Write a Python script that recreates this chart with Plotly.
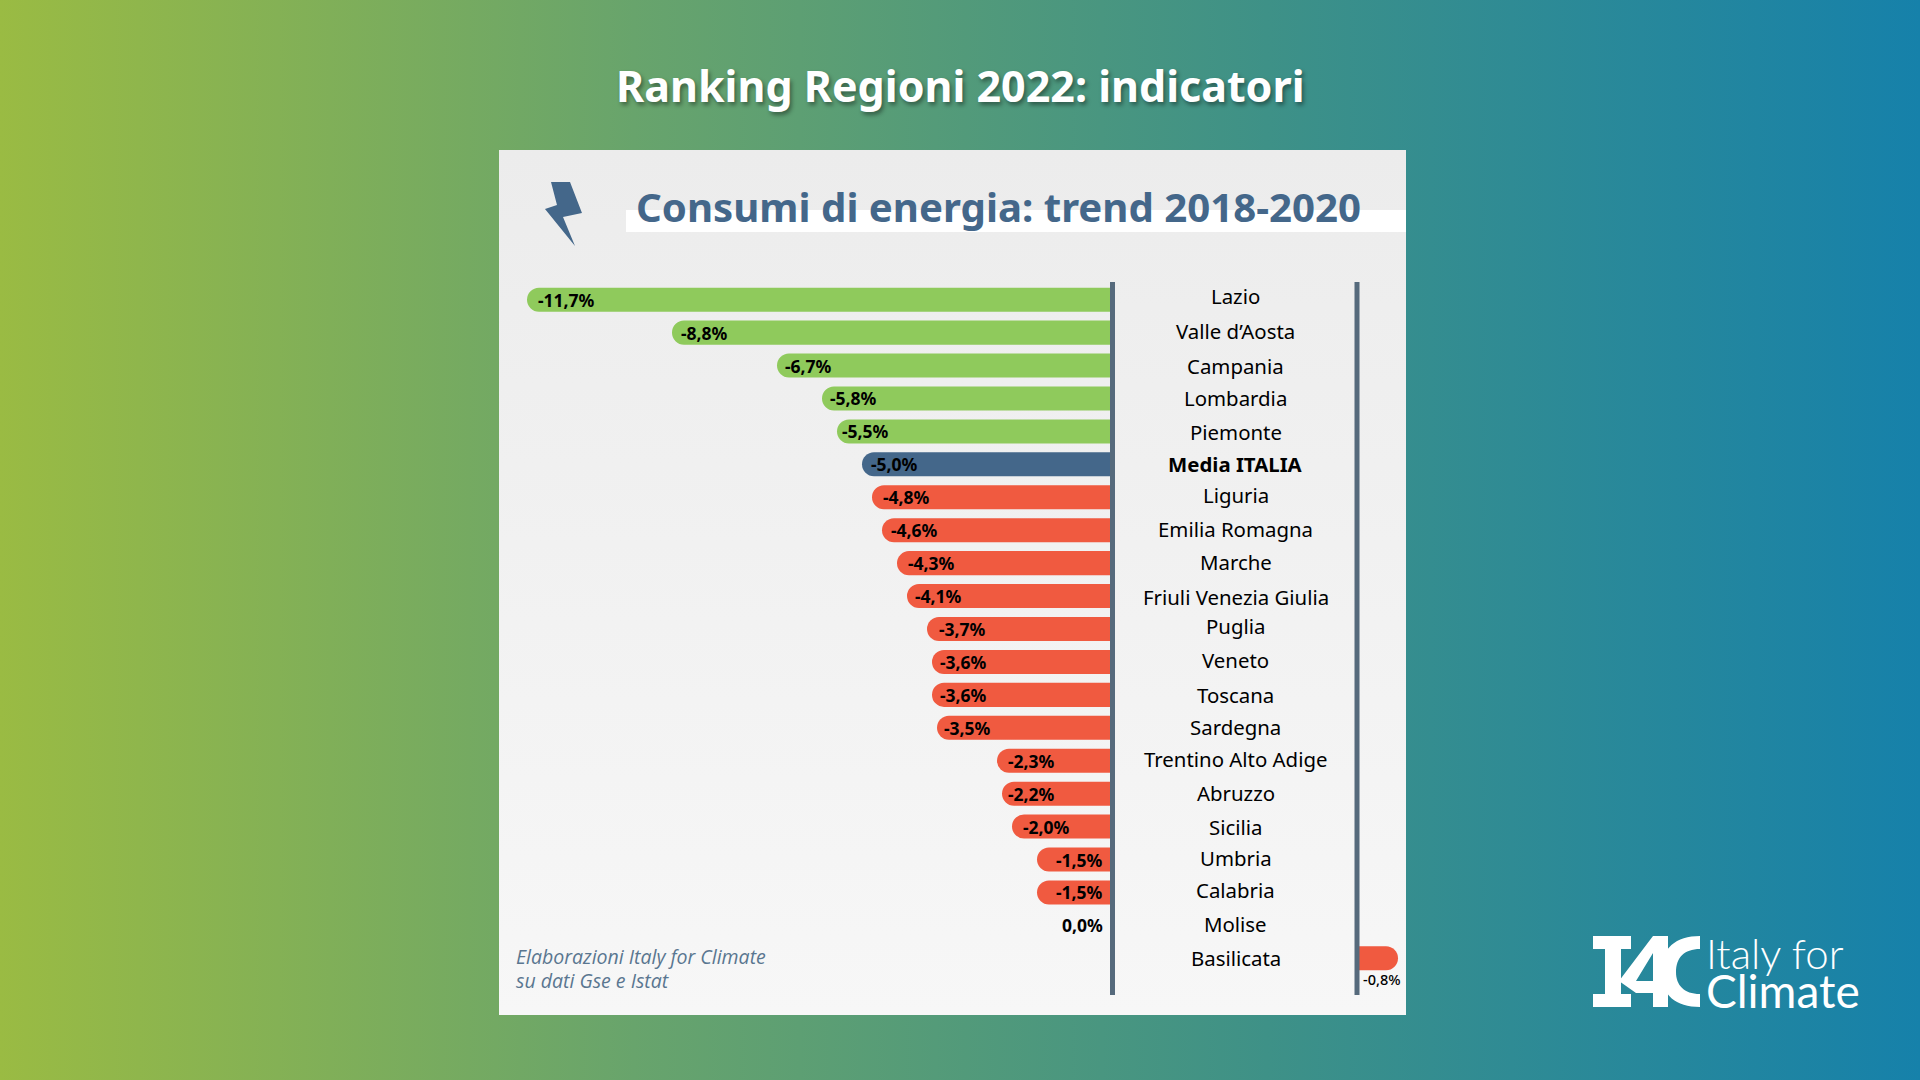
import base64
import plotly.graph_objects as go

REGIONS = ["Lazio", "Valle d’Aosta", "Campania", "Lombardia", "Piemonte", "Media ITALIA", "Liguria",
           "Emilia Romagna", "Marche", "Friuli Venezia Giulia", "Puglia", "Veneto", "Toscana", "Sardegna",
           "Trentino Alto Adige", "Abruzzo", "Sicilia", "Umbria", "Calabria", "Molise", "Basilicata"]
VALUES = [-11.7, -8.8, -6.7, -5.8, -5.5, -5.0, -4.8, -4.6, -4.3, -4.1, -3.7, -3.6, -3.6, -3.5,
          -2.3, -2.2, -2.0, -1.5, -1.5, 0.0, -0.8]
VALUE_LABELS = ["-11,7%", "-8,8%", "-6,7%", "-5,8%", "-5,5%", "-5,0%", "-4,8%", "-4,6%", "-4,3%", "-4,1%",
                "-3,7%", "-3,6%", "-3,6%", "-3,5%", "-2,3%", "-2,2%", "-2,0%", "-1,5%", "-1,5%", "0,0%", "-0,8%"]
GROUPS = ["good"] * 5 + ["avg"] + ["bad"] * 15
LABEL_PADS = [9, 7, 6, 6, 3, 7, 9, 7, 9, 6, 10, 6, 6, 5, 9, 4, 9]
NAME_SHIFTS = [4, 2, 0, 0, -1, 0, 2, 1, 1, -1, 3, 2, 0, 1, 2, 1, 0, 2, 2, 1, 0]

W, H = 1920, 1080
GROUP_COLORS = {"good": "#8fca5c", "avg": "#44678a", "bad": "#f05a40"}
INK = "#000000"
BLUE = "#44678a"
FONT = "Noto Sans"


def svg_gradient(x2, y2, stops):
    st = "".join(f'<stop offset="{o}" stop-color="{c}"/>' for o, c in stops)
    svg = (f'<svg xmlns="http://www.w3.org/2000/svg" width="100" height="100" preserveAspectRatio="none">'
           f'<defs><linearGradient id="g" x1="0" y1="0" x2="{x2}" y2="{y2}">{st}</linearGradient></defs>'
           f'<rect width="100" height="100" fill="url(#g)"/></svg>')
    return "data:image/svg+xml;base64," + base64.b64encode(svg.encode()).decode()


def px_img(src, x0, y0, x1, y1):
    return dict(source=src, xref="paper", yref="paper", x=x0 / W, y=1 - y0 / H,
                sizex=(x1 - x0) / W, sizey=(y1 - y0) / H, sizing="stretch",
                xanchor="left", yanchor="top", layer="below")


def px_path(cmds, fill):
    out = []
    for c in cmds:
        if isinstance(c, str):
            out.append(c)
        else:
            out.append(f"{c[0] / W:.5f},{1 - c[1] / H:.5f}")
    return dict(type="path", xref="paper", yref="paper", path=" ".join(out),
                fillcolor=fill, line=dict(width=0), layer="above")


def px_rect(x0, y0, x1, y1, fill, layer="below"):
    return dict(type="rect", xref="paper", yref="paper", x0=x0 / W, x1=x1 / W, y0=1 - y0 / H, y1=1 - y1 / H,
                fillcolor=fill, line=dict(width=0), layer=layer)


def px_text(text, x, y, size, color, anchor="left", family=FONT, weight=None, style=None, shadow=None):
    f = dict(family=family, size=size, color=color)
    if weight:
        f["weight"] = weight
    if style:
        f["style"] = style
    if shadow:
        f["shadow"] = shadow
    return dict(text=text, xref="paper", yref="paper", x=x / W, y=1 - y / H, xanchor=anchor, yanchor="middle",
                showarrow=False, font=f, align="left")


PLOT_TOP, PLOT_BOTTOM = 282, 995
ROW0_Y, ROW_STEP = 299.7, 32.93
X0_MAIN, X0_SIDE, PANEL_L, PANEL_R = 1112, 1358, 499, 1406
PX_PER_UNIT = 50
y_range = [(PLOT_BOTTOM - ROW0_Y) / ROW_STEP, (PLOT_TOP - ROW0_Y) / ROW_STEP]

fig = go.Figure()
fig.add_bar(x=VALUES[:-1], y=REGIONS[:-1], orientation="h", width=0.73,
            marker=dict(color=[GROUP_COLORS[g] for g in GROUPS[:-1]], cornerradius=12, line=dict(width=0)),
            hoverinfo="skip", xaxis="x", yaxis="y")
fig.add_bar(x=VALUES[-1:], y=REGIONS[-1:], orientation="h", width=0.73,
            marker=dict(color=GROUP_COLORS[GROUPS[-1]], cornerradius=12, line=dict(width=0)),
            hoverinfo="skip", xaxis="x2", yaxis="y")

annotations = []
# value labels
for i, (reg, val, lab) in enumerate(zip(REGIONS[:-1], VALUES[:-1], VALUE_LABELS[:-1])):
    label_font = dict(family=FONT, size=17.5, color=INK, weight=700)
    if i < len(LABEL_PADS):
        annotations.append(dict(text=lab, xref="x", yref="y", x=val, y=reg, xanchor="left", yanchor="middle",
                                xshift=LABEL_PADS[i], showarrow=False, font=label_font))
    else:
        annotations.append(dict(text=lab, xref="x", yref="y", x=0, y=reg, xanchor="right", yanchor="middle",
                                xshift=-7, showarrow=False, font=label_font))
annotations.append(dict(text=VALUE_LABELS[-1], xref="x2", yref="y", x=VALUES[-1] * 0.6, y=REGIONS[-1],
                        xanchor="center", yanchor="middle", yshift=-21, showarrow=False,
                        font=dict(family=FONT, size=14.5, color=INK, weight=500)))
# region names
for i, reg in enumerate(REGIONS):
    annotations.append(dict(text=reg, xref="paper", yref="y", x=1235.5 / W, y=reg, xanchor="center",
                            yanchor="middle", yshift=NAME_SHIFTS[i], showarrow=False,
                            font=dict(family=FONT, size=20.4, color=INK, weight=700 if reg == "Media ITALIA" else 400)))

annotations += [
    px_text("Ranking Regioni 2022: indicatori", 960, 85, 43, "#ffffff", "center", weight=700,
            shadow="2px 3px 4px rgba(0,0,0,0.4)"),
    px_text("Consumi di energia: trend 2018-2020", 634, 207, 40.2, BLUE, weight=700),
    px_text("Elaborazioni Italy for Climate", 514, 956, 19.5, "#5a7690", family="Open Sans", style="italic"),
    px_text("su dati Gse e Istat", 514, 980, 19.5, "#5a7690", family="Open Sans", style="italic"),
    px_text("Italy for", 1704, 953, 42, "#ffffff", family="Lato", weight=300),
    px_text("Climate", 1704, 990, 46, "#ffffff", family="Lato", weight=400),
]

bolt = ["M", (551, 182), "L", (570, 182), "L", (582, 213), "L", (563, 217), "L", (575, 246),
        "L", (545, 209), "L", (557, 205), "Z"]
logo_i = ["M", (1593, 936), "L", (1631, 936), "L", (1631, 949), "L", (1621, 949), "L", (1621, 994), "L", (1631, 994),
          "L", (1631, 1007), "L", (1593, 1007), "L", (1593, 994), "L", (1605, 994), "L", (1605, 949),
          "L", (1593, 949), "Z"]
logo_4 = ["M", (1653, 936), "L", (1668, 936), "L", (1668, 982), "L", (1674, 982), "L", (1674, 993), "L", (1668, 993),
          "L", (1668, 1007), "L", (1653, 1007), "L", (1653, 993), "L", (1636, 993), "L", (1619, 981), "Z",
          "M", (1653, 953), "L", (1636, 981), "L", (1653, 981), "Z"]
logo_c = ["M", (1700, 936), "L", (1700, 949), "C", (1684, 949), (1676, 958), (1676, 972), "C", (1676, 985), (1684, 994),
          (1700, 994), "L", (1700, 1007), "C", (1676, 1007), (1661, 995), (1661, 972), "C", (1661, 948), (1676, 936),
          (1700, 936), "Z"]


def axis_rule(px):
    return dict(type="line", xref="paper", yref="paper", x0=px / W, x1=px / W, y0=1 - PLOT_TOP / H,
                y1=1 - PLOT_BOTTOM / H, line=dict(color="#566a7c", width=5), layer="above")


shapes = [
    px_rect(626, 210, PANEL_R, 232, "#ffffff"),
    px_path(bolt, BLUE),
    px_path(logo_i, "#ffffff"),
    px_path(logo_4, "#ffffff"),
    px_path(logo_c, "#ffffff"),
    axis_rule(X0_MAIN + 0.5),
    axis_rule(X0_SIDE - 1),
]

images = [
    px_img(svg_gradient(1, 0, [(0, "#9abb43"), (0.33, "#68a46c"), (0.66, "#3e9187"), (1, "#1681aa")]), 0, 0, W, H),
    px_img(svg_gradient(0, 1, [(0, "#ececec"), (1, "#f7f7f7")]), PANEL_L, 150, PANEL_R, 1015),
]

fig.update_layout(
    width=W, height=H, margin=dict(l=0, r=0, t=0, b=0), autosize=False, showlegend=False,
    paper_bgcolor="#ffffff", plot_bgcolor="rgba(0,0,0,0)", barmode="overlay",
    xaxis=dict(domain=[PANEL_L / W, X0_MAIN / W], range=[-(X0_MAIN - PANEL_L) / PX_PER_UNIT, 0], visible=False,
               fixedrange=True),
    xaxis2=dict(domain=[X0_SIDE / W, PANEL_R / W], range=[0, -(PANEL_R - X0_SIDE) / PX_PER_UNIT], visible=False,
                anchor="y", fixedrange=True),
    yaxis=dict(domain=[1 - PLOT_BOTTOM / H, 1 - PLOT_TOP / H], range=y_range, type="category",
               categoryorder="array", categoryarray=REGIONS, visible=False, fixedrange=True),
    shapes=shapes, images=images, annotations=annotations,
)

fig.write_html("out.html", config=dict(displayModeBar=False),
               post_script="document.body.style.margin='0';document.body.style.overflow='hidden';")
